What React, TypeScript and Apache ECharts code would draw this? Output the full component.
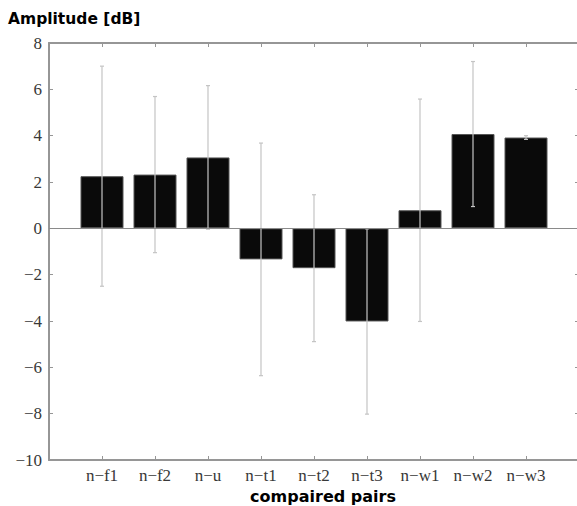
import React, { useEffect, useRef } from "react";
import * as echarts from "echarts";

const categories = ["n−f1", "n−f2", "n−u", "n−t1", "n−t2", "n−t3", "n−w1", "n−w2", "n−w3"];
const means = [2.25, 2.32, 3.06, -1.34, -1.72, -4.02, 0.78, 4.07, 3.92];
const errors = [4.75, 3.37, 3.1, 5.02, 3.17, 4.0, 4.8, 3.13, 0.08];
const yTicks = { min: -10, max: 8, step: 2 };
const yTitle = "Amplitude [dB]";
const xTitle = "compaired pairs";

const AXIS = "#969696";
const SERIF = "Liberation Serif";
const SANS = "DejaVu Sans";

export default function App() {
  const ref = useRef<HTMLDivElement>(null);
  useEffect(() => {
    if (!ref.current) return;
    const chart = echarts.init(ref.current, null, { renderer: "svg" });
    const barData = categories.map((c, i) => [i + 1, means[i]]);
    const errData = categories.map((c, i) => [i + 1, means[i] - errors[i], means[i] + errors[i]]);
    const xLabel = (v: number) => (v >= 1 && v <= categories.length ? categories[v - 1] : "");
    const yLabel = (v: number) => "{s|" + (v < 0 ? "−" + String(-v) : String(v)) + "}";
    const labelStyle = { fontFamily: SERIF, fontSize: 17, color: "#383838", fontWeight: "normal" };
    const line = { show: true, onZero: false, lineStyle: { color: AXIS, width: 2 } };
    const tick = { show: true, inside: true, length: 4, lineStyle: { color: AXIS, width: 1 } };
    chart.setOption({
      animation: false,
      backgroundColor: "#fff",
      textStyle: { fontFamily: SERIF },
      title: {
        text: yTitle,
        left: 8,
        top: 11,
        textStyle: { fontFamily: SANS, fontWeight: "bold", fontSize: 15.5, color: "#000" },
        padding: 0,
      },
      grid: { left: 49, top: 43, right: -2, bottom: 46, outerBoundsMode: "none", containLabel: false },
      xAxis: [
        {
          type: "value",
          min: 0,
          max: 10,
          interval: 1,
          position: "bottom",
          name: xTitle,
          nameLocation: "middle",
          nameGap: 27,
          nameTextStyle: {
            fontFamily: SANS,
            fontWeight: "bold",
            fontSize: 16,
            color: "#000",
            padding: [0, 0, 0, 18],
          },
          axisLine: line,
          axisTick: tick,
          axisLabel: { ...labelStyle, formatter: xLabel, margin: 7 },
          splitLine: { show: false },
        },
        {
          type: "value",
          min: 0,
          max: 10,
          interval: 1,
          position: "top",
          axisLine: line,
          axisTick: tick,
          axisLabel: { show: false },
          splitLine: { show: false },
        },
      ],
      yAxis: [
        {
          type: "value",
          min: yTicks.min,
          max: yTicks.max,
          interval: yTicks.step,
          position: "left",
          axisLine: line,
          axisTick: tick,
          axisLabel: {
            ...labelStyle,
            formatter: yLabel,
            margin: 7,
            rich: { s: { ...labelStyle } },
          },
          splitLine: { show: false },
        },
        {
          type: "value",
          min: yTicks.min,
          max: yTicks.max,
          interval: yTicks.step,
          position: "right",
          axisLine: line,
          axisTick: tick,
          axisLabel: { show: false },
          splitLine: { show: false },
        },
      ],
      series: [
        {
          type: "bar",
          data: barData,
          barWidth: 43,
          itemStyle: { color: "#0a0a0a", borderColor: "#555", borderWidth: 1 },
          markLine: {
            silent: true,
            symbol: "none",
            label: { show: false },
            lineStyle: { color: "#8a8a8a", type: "solid", width: 1 },
            data: [{ yAxis: 0 }],
          },
          z: 2,
        },
        {
          type: "custom",
          data: errData,
          z: 3,
          renderItem: (params: any, api: any) => {
            const x = api.value(0);
            const lo = api.coord([x, api.value(1)]);
            const hi = api.coord([x, api.value(2)]);
            const style = { stroke: "#c4c4c4", lineWidth: 1.2 };
            return {
              type: "group",
              children: [
                { type: "line", shape: { x1: hi[0], y1: hi[1], x2: lo[0], y2: lo[1] }, style },
                { type: "line", shape: { x1: hi[0] - 2, y1: hi[1], x2: hi[0] + 2, y2: hi[1] }, style },
                { type: "line", shape: { x1: lo[0] - 2, y1: lo[1], x2: lo[0] + 2, y2: lo[1] }, style },
              ],
            };
          },
        },
      ],
    });
    return () => chart.dispose();
  }, []);
  return (
    <div
      ref={ref}
      style={{ position: "fixed", left: 0, top: 0, width: 577, height: 506, background: "#fff" }}
    />
  );
}
